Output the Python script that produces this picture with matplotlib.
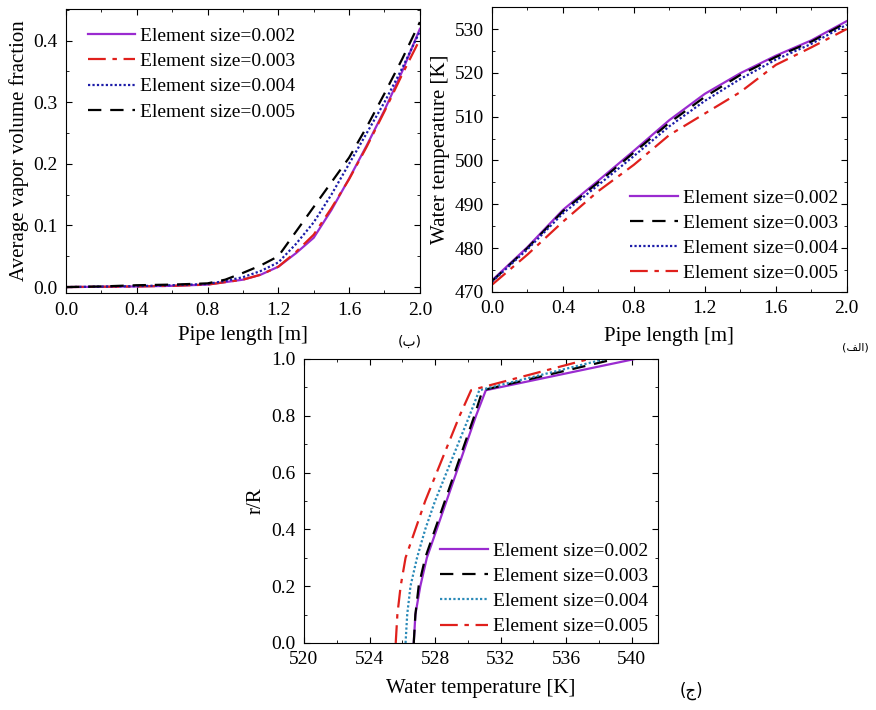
import matplotlib.pyplot as plt
from matplotlib.ticker import MultipleLocator

plt.rcParams['font.family'] = ['Liberation Serif', 'DejaVu Sans']
plt.rcParams['font.size'] = 14

# (ب) average vapor volume fraction vs pipe length
x_vap = [0.0, 0.2, 0.4, 0.6, 0.8, 0.9, 1.0, 1.1, 1.2, 1.3, 1.4, 1.5, 1.6, 1.7, 1.8, 1.9, 2.0]
vap_002 = [0.0, 0.0005, 0.001, 0.002, 0.004, 0.008, 0.012, 0.02, 0.033, 0.055, 0.08, 0.125, 0.176, 0.23, 0.287, 0.35, 0.419]
vap_003 = [0.0, 0.0005, 0.001, 0.002, 0.004, 0.008, 0.012, 0.02, 0.033, 0.057, 0.085, 0.128, 0.175, 0.228, 0.285, 0.345, 0.402]
vap_004 = [0.0, 0.0008, 0.0015, 0.003, 0.005, 0.01, 0.016, 0.026, 0.04, 0.07, 0.105, 0.15, 0.2, 0.25, 0.3, 0.355, 0.415]
vap_005 = [0.0, 0.001, 0.003, 0.004, 0.006, 0.012, 0.023, 0.035, 0.05, 0.09, 0.13, 0.17, 0.21, 0.26, 0.314, 0.37, 0.43]

# (الف) water temperature vs pipe length
x_tmp = [0.0, 0.2, 0.4, 0.6, 0.8, 1.0, 1.2, 1.4, 1.6, 1.8, 2.0]
tmp_002 = [472.6, 480.2, 488.7, 495.4, 502.2, 509.2, 515.2, 519.9, 523.9, 527.4, 531.8]
tmp_003 = [472.4, 480.0, 488.4, 495.0, 501.8, 508.6, 514.5, 519.5, 523.6, 527.1, 531.5]
tmp_004 = [472.3, 479.7, 487.9, 494.4, 501.0, 507.8, 513.6, 518.6, 523.0, 526.6, 531.0]
tmp_005 = [471.6, 478.5, 486.0, 493.0, 499.0, 505.8, 510.7, 515.6, 521.8, 525.8, 530.0]

# (ج) radial temperature profile
r_R = [0.0, 0.1, 0.2, 0.3, 0.4, 0.5, 0.6, 0.7, 0.8, 0.89, 1.0]
rad_002 = [526.7, 526.8, 527.1, 527.5, 528.1, 528.7, 529.3, 529.9, 530.5, 531.1, 540.2]
rad_003 = [526.7, 526.8, 527.0, 527.4, 528.0, 528.6, 529.2, 529.8, 530.4, 530.9, 539.0]
rad_004 = [526.2, 526.3, 526.5, 526.9, 527.4, 528.0, 528.7, 529.4, 530.1, 530.7, 538.4]
rad_005 = [525.6, 525.7, 525.9, 526.2, 526.8, 527.4, 528.1, 528.8, 529.5, 530.2, 537.4]

labels = ['Element size=0.002', 'Element size=0.003', 'Element size=0.004', 'Element size=0.005']

purple = '#9A2BD0'
red = '#E0201C'
blue = '#1C1CA8'
teal = '#2A8AB8'
lw = 1.6
dashdot = (0, (8, 3, 2, 3))
dashed = (0, (6, 4))
dotted = (0, (1, 1))


def style_axes(ax):
    ax.tick_params(which='both', direction='in', top=True, right=True, labelsize=14)
    ax.tick_params(which='major', length=4, pad=6)
    ax.tick_params(which='minor', length=2)


def add_legend(ax, **kw):
    ax.legend(frameon=False, fontsize=14, handlelength=2.45, handletextpad=0.25,
              labelspacing=0.39, **kw)


fig = plt.figure(figsize=(8.76, 7.10), dpi=100)

# top-left
ax1 = fig.add_axes([0.0753, 0.587, 0.404, 0.401])
ax1.plot(x_vap, vap_002, color=purple, lw=lw, ls='-', label=labels[0])
ax1.plot(x_vap, vap_003, color=red, lw=lw, ls=dashdot, label=labels[1])
ax1.plot(x_vap, vap_004, color=blue, lw=lw, ls=dotted, label=labels[2])
ax1.plot(x_vap, vap_005, color='black', lw=lw, ls=dashed, label=labels[3])
ax1.set_xlim(0, 2.0)
ax1.set_ylim(-0.01, 0.452)
ax1.xaxis.set_major_locator(MultipleLocator(0.4))
ax1.xaxis.set_minor_locator(MultipleLocator(0.2))
ax1.yaxis.set_major_locator(MultipleLocator(0.1))
ax1.yaxis.set_minor_locator(MultipleLocator(0.05))
ax1.xaxis.set_major_formatter(lambda v, p: f'{v:.1f}')
ax1.yaxis.set_major_formatter(lambda v, p: f'{v:.1f}')
ax1.set_xlabel('Pipe length [m]', fontsize=15, labelpad=5)
ax1.set_ylabel('Average vapor volume fraction', fontsize=15, labelpad=3)
style_axes(ax1)
add_legend(ax1, loc='upper left', bbox_to_anchor=(0.012, 0.995))

# top-right
ax2 = fig.add_axes([0.5616, 0.589, 0.405, 0.401])
ax2.plot(x_tmp, tmp_002, color=purple, lw=lw, ls='-', label=labels[0])
ax2.plot(x_tmp, tmp_003, color='black', lw=lw, ls=dashed, label=labels[1])
ax2.plot(x_tmp, tmp_004, color=blue, lw=lw, ls=dotted, label=labels[2])
ax2.plot(x_tmp, tmp_005, color=red, lw=lw, ls=dashdot, label=labels[3])
ax2.set_xlim(0, 2.0)
ax2.set_ylim(470, 535)
ax2.xaxis.set_major_locator(MultipleLocator(0.4))
ax2.xaxis.set_minor_locator(MultipleLocator(0.2))
ax2.yaxis.set_major_locator(MultipleLocator(10))
ax2.yaxis.set_minor_locator(MultipleLocator(5))
ax2.xaxis.set_major_formatter(lambda v, p: f'{v:.1f}')
ax2.set_xlabel('Pipe length [m]', fontsize=15, labelpad=7)
ax2.set_ylabel('Water temperature [K]', fontsize=15, labelpad=3)
style_axes(ax2)
add_legend(ax2, loc='lower right', bbox_to_anchor=(1.024, -0.028))

# bottom
ax3 = fig.add_axes([0.347, 0.0944, 0.404, 0.4])
ax3.plot(rad_002, r_R, color=purple, lw=lw, ls='-', label=labels[0])
ax3.plot(rad_003, r_R, color='black', lw=lw, ls=dashed, label=labels[1])
ax3.plot(rad_004, r_R, color=teal, lw=lw, ls=dotted, label=labels[2])
ax3.plot(rad_005, r_R, color=red, lw=lw, ls=dashdot, label=labels[3])
ax3.set_xlim(520, 541.6)
ax3.set_ylim(0, 1.0)
ax3.xaxis.set_major_locator(MultipleLocator(4))
ax3.xaxis.set_minor_locator(MultipleLocator(2))
ax3.yaxis.set_major_locator(MultipleLocator(0.2))
ax3.yaxis.set_minor_locator(MultipleLocator(0.1))
ax3.yaxis.set_major_formatter(lambda v, p: f'{v:.1f}')
ax3.set_xlabel('Water temperature [K]', fontsize=15, labelpad=8)
ax3.set_ylabel('r/R', fontsize=15, labelpad=4)
style_axes(ax3)
add_legend(ax3, loc='lower right', bbox_to_anchor=(1.021, -0.035))

# panel tags (Persian letters, pre-shaped for left-to-right drawing)
arab = ['DejaVu Sans']
fig.text(0.468, 0.513, '(\uFE8F)', family=arab, fontsize=10, ha='center')
fig.text(0.976, 0.506, '(\uFED2\uFEDF\uFE8D)', family=arab, fontsize=8, ha='center')
fig.text(0.789, 0.02, '(\uFE9D)', family=arab, fontsize=12, ha='center')

fig.savefig('out.png', dpi=100)
